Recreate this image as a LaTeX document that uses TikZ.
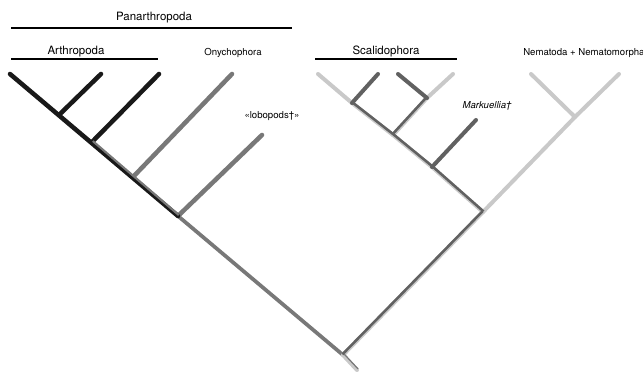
\documentclass[tikz,border=0pt]{standalone}
\usepackage{fontspec}
\setmainfont{TeX Gyre Heros}
\definecolor{cladeblack}{gray}{0.1}
\definecolor{cladegray}{gray}{0.47}
\definecolor{cladedark}{gray}{0.38}
\definecolor{cladelight}{gray}{0.79}
\begin{document}
\begin{tikzpicture}[x=0.75pt,y=-0.75pt,
	arth/.style={ draw=cladeblack, line width=3.4pt, line cap=round },
	ony/.style={ draw=cladegray, line width=3.4pt, line cap=round },
	onythin/.style={ draw=cladegray, line width=1.6pt },
	stem/.style={ draw=cladegray, line width=2.8pt, line cap=round },
	lite/.style={ draw=cladelight, line width=3pt, line cap=round },
	dark/.style={ draw=cladedark, line width=3pt, line cap=round },
	darkthin/.style={ draw=cladedark, line width=1.9pt },
	bar/.style={ draw=black, line width=1.1pt },
	head/.style={ font=\fontsize{8.6}{10}\selectfont, anchor=base, inner sep=0pt },
	leaf/.style={ font=\fontsize{7.2}{9}\selectfont, anchor=base, inner sep=0pt }
]
\useasboundingbox (0,0) rectangle (643,373);

% labels and bars
\node[head] (panlab) at (154,21) {Panarthropoda};
\coordinate (panL) at (11,28);
\coordinate (panR) at (292,28);
\draw[bar] (panL) to (panR);

\node[head] (arthlab) at (76,55) {Arthropoda};
\coordinate (arthL) at (11,59);
\coordinate (arthR) at (158,59);
\draw[bar] (arthL) to (arthR);

\node[head] (scallab) at (386,55) {Scalidophora};
\coordinate (scalL) at (315,59);
\coordinate (scalR) at (457,59);
\draw[bar] (scalL) to (scalR);

\node[leaf] (onylab) at (233,56) {Onychophora};
\node[leaf] (lobolab) at (272,118.5) {«lobopods†»};
\node[leaf] (marklab) at (487,108.5) {\itshape Markuellia†};
\node[leaf, anchor=base west] (nemlab) at (523,56) {Nematoda + Nematomorpha};

% left tree
\coordinate (a1) at (10,74);
\coordinate (j1) at (59,115);
\coordinate (a2) at (101,74);
\coordinate (j2) at (92,142);
\coordinate (a3) at (159,74);
\coordinate (j3) at (133,177);
\coordinate (o1) at (232,74);
\coordinate (j4) at (178,216);
\coordinate (l1) at (262,135);
\coordinate (r) at (343,355);
\coordinate (st) at (357,370);

\draw[stem] (j4) to (r);
\draw[ony] (j3) to (o1);
\draw[ony] (j4) to (l1);
\draw[arth] (a1) to (j4);
\draw[arth] (j1) to (a2);
\draw[arth] (j2) to (a3);
\draw[onythin, transform canvas={shift={(0.6pt,0.7pt)}}] (j2) to (j4);

% right tree
\coordinate (j5) at (483,212);
\coordinate (n) at (575,117);
\coordinate (n1) at (531,74);
\coordinate (n2) at (619,74);
\coordinate (m) at (432,167);
\coordinate (mt) at (476,120);
\coordinate (s) at (393,135);
\coordinate (sl) at (352,103);
\coordinate (sl1) at (318,74);
\coordinate (sd1) at (378,74);
\coordinate (sr) at (427,98);
\coordinate (sd2) at (398,74);
\coordinate (sr1) at (453,74);

\draw[lite] (r) to (st);
\draw[lite] (r) to (j5) to (n) to (n2);
\draw[lite] (n) to (n1);
\draw[lite] (j5) to (m) to (s) to (sl) to (sl1);
\draw[lite] (s) to (sr) to (sr1);

\draw[dark] (m) to (mt);
\draw[dark] (sl) to (sd1);
\draw[dark] (sd2) to (sr);
\draw[darkthin, transform canvas={shift={(-0.45pt,0.45pt)}}] (r) to (j5);
\draw[darkthin, transform canvas={shift={(0.35pt,0.45pt)}}] (j5) to (m) to (s) to (sl);
\draw[darkthin, transform canvas={shift={(-0.45pt,0.45pt)}}] (sr) to (s);
\draw[cladegray, line width=0.9pt, transform canvas={shift={(0.8pt,0.8pt)}}] (r) to (st);

\end{tikzpicture}
\end{document}
